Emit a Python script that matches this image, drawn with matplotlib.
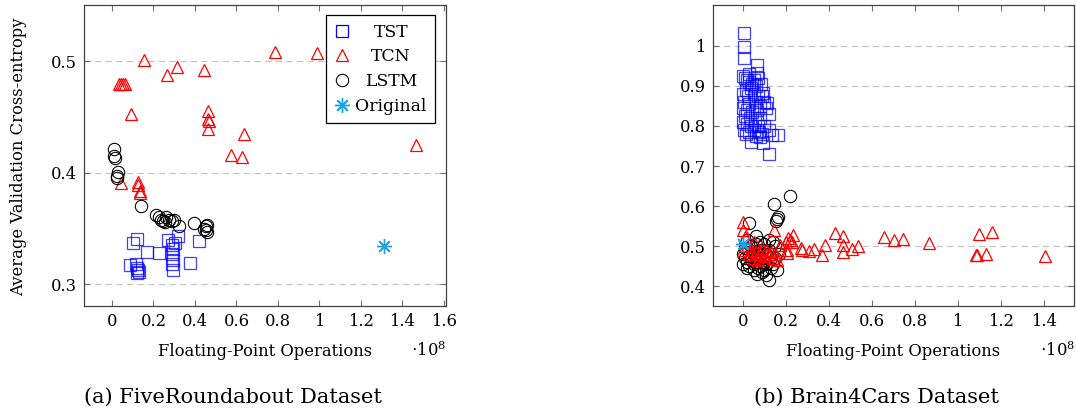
import matplotlib
matplotlib.use("Agg")
import matplotlib.pyplot as plt
from matplotlib.transforms import Affine2D

plt.rcParams['font.family'] = ['DejaVu Serif']
plt.rcParams['mathtext.fontset'] = 'dejavuserif'

# ---------------- data (x in units of 1e8 FLOPs) ----------------
# (a) FiveRoundabout
fr_tst_x = [0.119, 0.103, 0.170, 0.226, 0.087, 0.115, 0.120, 0.125, 0.130, 0.120,
            0.271, 0.304, 0.320, 0.290, 0.292, 0.290, 0.292, 0.290, 0.292, 0.374, 0.421]
fr_tst_y = [0.341, 0.337, 0.329, 0.328, 0.317, 0.318, 0.315, 0.313, 0.311, 0.310,
            0.340, 0.337, 0.343, 0.335, 0.332, 0.327, 0.322, 0.318, 0.313, 0.319, 0.339]
fr_tcn_x = [0.156, 0.263, 0.312, 0.443, 0.035, 0.045, 0.055, 0.065, 0.090, 0.464,
            0.464, 0.466, 0.464, 0.638, 0.786, 0.986, 1.465, 0.572, 0.628, 0.042,
            0.127, 0.127, 0.135, 0.135]
fr_tcn_y = [0.501, 0.488, 0.495, 0.492, 0.480, 0.480, 0.480, 0.480, 0.453, 0.455,
            0.448, 0.446, 0.439, 0.435, 0.508, 0.507, 0.425, 0.416, 0.414, 0.391,
            0.392, 0.389, 0.384, 0.382]
fr_lstm_x = [0.010, 0.012, 0.014, 0.030, 0.022, 0.025, 0.138, 0.212, 0.225, 0.235,
             0.245, 0.255, 0.262, 0.275, 0.290, 0.300, 0.325, 0.394, 0.445, 0.452,
             0.455, 0.458, 0.460]
fr_lstm_y = [0.421, 0.415, 0.413, 0.401, 0.397, 0.395, 0.370, 0.362, 0.360, 0.358,
             0.357, 0.356, 0.360, 0.358, 0.357, 0.358, 0.352, 0.355, 0.350, 0.352,
             0.349, 0.347, 0.353]
fr_orig_x = [1.312]
fr_orig_y = [0.334]

# (b) Brain4Cars
b4_tst_x = [0.006, 0.006, 0.006, 0.065, 0.068, 0.000, 0.010, 0.020, 0.030, 0.045,
            0.050, 0.040, 0.060, 0.015, 0.000, 0.025, 0.050, 0.070, 0.090, 0.100,
            0.005, 0.030, 0.060, 0.080, 0.110, 0.000, 0.020, 0.045, 0.065, 0.120,
            0.010, 0.035, 0.055, 0.080, 0.000, 0.020, 0.040, 0.070, 0.100, 0.005,
            0.030, 0.050, 0.075, 0.120, 0.015, 0.060, 0.090, 0.135, 0.166, 0.096,
            0.124, 0.037, 0.112, 0.096, 0.080, 0.085, 0.030, 0.070]
b4_tst_y = [1.032, 0.996, 0.970, 0.952, 0.931, 0.925, 0.920, 0.915, 0.910, 0.905,
            0.915, 0.895, 0.900, 0.890, 0.880, 0.875, 0.880, 0.875, 0.875, 0.860,
            0.860, 0.855, 0.860, 0.850, 0.845, 0.845, 0.840, 0.835, 0.840, 0.830,
            0.825, 0.820, 0.815, 0.820, 0.810, 0.805, 0.800, 0.800, 0.800, 0.790,
            0.785, 0.790, 0.785, 0.790, 0.780, 0.775, 0.780, 0.777, 0.777, 0.757,
            0.730, 0.761, 0.856, 0.881, 0.773, 0.905, 0.930, 0.920]
b4_tcn_x = [0.003, 0.003, 0.010, 0.146, 0.235, 0.220, 0.210, 0.230, 0.174, 0.205,
            0.205, 0.270, 0.275, 0.310, 0.330, 0.367, 0.383, 0.429, 0.468, 0.468,
            0.468, 0.507, 0.538, 0.655, 0.704, 0.747, 0.868, 1.099, 1.160, 1.085,
            1.090, 1.132, 1.407,
            0.020, 0.040, 0.060, 0.080, 0.100, 0.120, 0.140, 0.050, 0.090, 0.110,
            0.130, 0.030, 0.070, 0.150, 0.160, 0.000, 0.050, 0.200]
b4_tcn_y = [0.561, 0.540, 0.524, 0.540, 0.528, 0.515, 0.520, 0.510, 0.503, 0.490,
            0.483, 0.495, 0.490, 0.488, 0.492, 0.478, 0.503, 0.532, 0.525, 0.503,
            0.486, 0.494, 0.500, 0.523, 0.515, 0.517, 0.509, 0.530, 0.535, 0.479,
            0.479, 0.481, 0.476,
            0.500, 0.490, 0.485, 0.480, 0.475, 0.480, 0.470, 0.470, 0.495, 0.490,
            0.485, 0.480, 0.465, 0.480, 0.465, 0.490, 0.510, 0.510]
b4_lstm_x = [0.220, 0.147, 0.160, 0.165, 0.155, 0.030, 0.124, 0.110, 0.065, 0.019,
             0.000, 0.010, 0.020, 0.000, 0.030, 0.040, 0.050, 0.060, 0.070, 0.080,
             0.090, 0.100, 0.110, 0.120, 0.130, 0.140, 0.150, 0.160, 0.050, 0.030,
             0.070, 0.090, 0.010, 0.040, 0.060, 0.080, 0.100, 0.120, 0.140, 0.020,
             0.050, 0.090, 0.130, 0.150, 0.100, 0.030, 0.075, 0.060, 0.110, 0.170]
b4_lstm_y = [0.626, 0.605, 0.568, 0.574, 0.562, 0.558, 0.417, 0.428, 0.432, 0.445,
             0.480, 0.470, 0.460, 0.455, 0.475, 0.465, 0.455, 0.470, 0.460, 0.450,
             0.470, 0.460, 0.480, 0.490, 0.470, 0.455, 0.500, 0.440, 0.440, 0.450,
             0.445, 0.435, 0.495, 0.500, 0.505, 0.510, 0.505, 0.515, 0.510, 0.515,
             0.480, 0.490, 0.445, 0.470, 0.440, 0.490, 0.490, 0.525, 0.455, 0.480]
b4_orig_x = [0.000]
b4_orig_y = [0.506]

fr_x_ticks = [0, 0.2, 0.4, 0.6, 0.8, 1, 1.2, 1.4, 1.6]
b4_x_ticks = [0, 0.2, 0.4, 0.6, 0.8, 1, 1.2, 1.4]
fr_y_ticks = [0.3, 0.4, 0.5]
b4_y_ticks = [0.4, 0.5, 0.6, 0.7, 0.8, 0.9, 1.0]
series_names = ['TST', 'TCN', 'LSTM', 'Original']

# ---------------- styling ----------------
BLUE = '#0000ff'
RED = '#ff0000'
BLACK = '#000000'
CYAN = '#1aa3e8'
MS = 8.3
LW = 0.9
FS = 11.8

fig = plt.figure(figsize=(10.76, 4.12), dpi=100)
W, H = 1076.0, 412.0


def make_ax(left_px, right_px, top_px, bottom_px):
    return fig.add_axes([left_px / W, 1 - bottom_px / H,
                         (right_px - left_px) / W, (bottom_px - top_px) / H])


def style(ax, xticks, yticks, xlim, ylim):
    for s in ax.spines.values():
        s.set_color('#404040')
        s.set_linewidth(0.9)
    ax.set_xticks(xticks)
    ax.set_xticklabels(['%g' % v for v in xticks])
    ax.set_yticks(yticks)
    ax.set_yticklabels(['%g' % v for v in yticks])
    ax.set_xlim(*xlim)
    ax.set_ylim(*ylim)
    ax.tick_params(direction='in', length=4.5, width=0.8, color='#707070',
                   top=True, right=True, labelsize=FS, pad=5)
    ax.grid(axis='y', color='#c4c4c4', linestyle=(0, (5, 3.5)), linewidth=0.9)
    ax.set_axisbelow(True)


def draw(ax, tx, ty, cx, cy, lx, ly, ox, oy, tcn_on_top=False):
    h1, = ax.plot(tx, ty, linestyle='none', marker='s', ms=MS, mfc='none',
                  mec=BLUE, mew=LW, alpha=0.75, zorder=3)
    h2, = ax.plot(cx, cy, linestyle='none', marker='^', ms=MS + 0.4, mfc='none',
                  mec=RED, mew=LW, zorder=5 if tcn_on_top else 4)
    h3, = ax.plot(lx, ly, linestyle='none', marker='o', ms=MS + 0.6, mfc='none',
                  mec=BLACK, mew=LW * 0.85, zorder=4 if tcn_on_top else 5)
    h4, = ax.plot(ox, oy, linestyle='none', marker=(8, 2, 0), ms=MS * 1.3,
                  mec=CYAN, mew=1.0, zorder=6)
    return [h1, h2, h3, h4]


# (a)
axa = make_ax(84, 446, 5, 306)
handles = draw(axa, fr_tst_x, fr_tst_y, fr_tcn_x, fr_tcn_y,
               fr_lstm_x, fr_lstm_y, fr_orig_x, fr_orig_y)
style(axa, fr_x_ticks, fr_y_ticks, (-0.135, 1.61), (0.2805, 0.5505))
leg = axa.legend(handles, series_names, loc='upper right',
                 bbox_to_anchor=(0.97, 0.967), borderaxespad=0, fontsize=12.4,
                 frameon=True, fancybox=False, handlelength=0.9,
                 handletextpad=0.3, labelspacing=0.45, borderpad=0.5)
leg.get_frame().set_edgecolor('#000000')
leg.get_frame().set_linewidth(0.9)
leg.get_frame().set_alpha(1)
for lh in leg.legend_handles:
    lh.set_alpha(1)

# (b)
axb = make_ax(712.7, 1074, 5, 306)
draw(axb, b4_tst_x, b4_tst_y, b4_tcn_x, b4_tcn_y,
     b4_lstm_x, b4_lstm_y, b4_orig_x, b4_orig_y, tcn_on_top=True)
style(axb, b4_x_ticks, b4_y_ticks, (-0.14, 1.541), (0.351, 1.1015))

# labels
fig.text(18.5 / W, 1 - 157 / H, 'Average Validation Cross-entropy', rotation=90,
         ha='center', va='center', fontsize=FS)
fig.text(265 / W, 1 - 356 / H, 'Floating-Point Operations', ha='center',
         va='baseline', fontsize=FS)
fig.text(893 / W, 1 - 356 / H, 'Floating-Point Operations', ha='center',
         va='baseline', fontsize=FS)
fig.text(446 / W, 1 - 356 / H, r'$\cdot10^{8}$', ha='right', va='baseline',
         fontsize=FS)
fig.text(1075 / W, 1 - 356 / H, r'$\cdot10^{8}$', ha='right', va='baseline',
         fontsize=FS)
fig.text(232.5 / W, 1 - 403 / H, '(a) FiveRoundabout Dataset', ha='center',
         va='baseline', fontsize=15)
fig.text(876 / W, 1 - 403 / H, '(b) Brain4Cars Dataset', ha='center',
         va='baseline', fontsize=15)

# centre the legend labels within their column, as in the original
fig.canvas.draw()
r = fig.canvas.get_renderer()
texts = leg.get_texts()
widths = [t.get_window_extent(r).width for t in texts]
maxw = max(widths)
for t, w in zip(texts, widths):
    t.set_transform(t.get_transform() + Affine2D().translate((maxw - w) / 2.0, 0))

fig.savefig('out.png', dpi=100)
